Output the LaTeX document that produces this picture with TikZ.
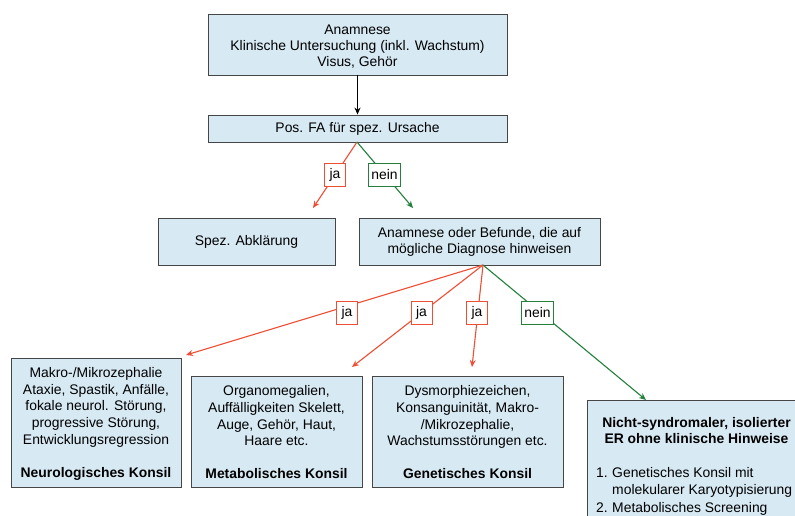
\documentclass[tikz,border=0pt]{standalone}
\usepackage{fontspec}
\setmainfont{Liberation Sans}
\usetikzlibrary{arrows.meta}
\definecolor{boxfill}{RGB}{215,233,243}
\definecolor{boxline}{RGB}{70,70,70}
\definecolor{redc}{RGB}{238,78,52}
\definecolor{greenc}{RGB}{36,128,60}
\begin{document}
\begin{tikzpicture}[x=1pt,y=-1pt,
 box/.style={draw=boxline, fill=boxfill, line width=0.9pt, inner sep=0pt, align=center, font=\fontsize{13.9}{16}\selectfont},
 bt/.style={inner sep=0pt, align=center, font=\fontsize{13.9}{16.6}\selectfont},
 lab/.style={draw=#1, fill=white, line width=0.8pt, inner sep=2.5pt, font=\fontsize{13.9}{15}\selectfont, minimum height=23pt, minimum width=21pt},
 arr/.style={draw=#1, line width=1.1pt, -{Stealth[length=7pt,width=6pt]}},
 txt/.style={inner sep=0pt, font=\fontsize{13.9}{16.5}\selectfont}
]
\useasboundingbox (0,0) rectangle (795,515);
\clip (0,0) rectangle (795,515);
\fill[white] (0,0) rectangle (795,515);

\node[box, minimum width=299pt, minimum height=61pt] (top) at (357.5,44.5) {};
\node[bt, font=\fontsize{13.9}{16}\selectfont] (topT) at (357.5,46.5)
  {Anamnese\\Klinische Untersuchung (inkl. Wachstum)\\Visus, Gehör};
\node[box, minimum width=299pt, minimum height=27pt] (pos) at (357.5,128.5)
  {Pos. FA für spez. Ursache};
\node[box, minimum width=177pt, minimum height=47pt] (spez) at (246.5,241.5)
  {Spez. Abklärung};
\node[box, minimum width=241pt, minimum height=47pt] (anam) at (479.5,241.5)
  {Anamnese oder Befunde, die auf\\mögliche Diagnose hinweisen};

\node[box, minimum width=170pt, minimum height=129pt] (neuro) at (96,422.5) {};
\node[bt] (neuroT) at (96,424)
  {Makro-/Mikrozephalie\\Ataxie, Spastik, Anfälle,\\fokale neurol. Störung,\\progressive Störung,\\Entwicklungsregression\\[16.6pt]\textbf{Neurologisches Konsil}};
\node[box, minimum width=171pt, minimum height=111pt] (metab) at (276.5,431.5) {};
\node[bt] (metabT) at (276.5,432.5)
  {Organomegalien,\\Auffälligkeiten Skelett,\\Auge, Gehör, Haut,\\Haare etc.\\[16.6pt]\textbf{Metabolisches Konsil}};
\node[box, minimum width=191pt, minimum height=111pt] (genet) at (467.5,431.5) {};
\node[bt] (genetT) at (467.5,432.5)
  {Dysmorphiezeichen,\\Konsanguinität, Makro-\\/Mikrozephalie,\\Wachstumsstörungen etc.\\[16.6pt]\textbf{Genetisches Konsil}};
\node[box, minimum width=220pt, minimum height=150pt, anchor=north west] (nicht) at (587,400) {};
\node[txt, align=center, font=\bfseries\fontsize{13.9}{16.75}\selectfont] (nhead) at (696.5,430.5)
  {Nicht-syndromaler, isolierter\\ER ohne klinische Hinweise};
\node[txt, anchor=base west] (n1) at (596,477) {1.};
\node[txt, anchor=base west] (l1a) at (612,477) {Genetisches Konsil mit};
\node[txt, anchor=base west] (l1b) at (612,494) {molekularer Karyotypisierung};
\node[txt, anchor=base west] (n2) at (596,512) {2.};
\node[txt, anchor=base west] (l2a) at (612,512) {Metabolisches Screening};

% connectors
\draw[arr=black] (top.south) -- (pos.north);
\coordinate (s1) at (357,142);
\coordinate (e1) at (313,208);
\coordinate (e2) at (413,208);
\draw[arr=redc] (s1) -- (e1);
\draw[arr=greenc] (s1) -- (e2);
\node[lab=redc] (ja0) at (335,175) {ja};
\node[lab=greenc] (nein0) at (384.5,175) {nein};

\coordinate (s2) at (483,265);
\coordinate (f1) at (186,355);
\coordinate (f2) at (352,367);
\coordinate (f3) at (472,367);
\coordinate (f4) at (646,400);
\draw[arr=redc] (s2) -- (f1);
\draw[arr=redc] (s2) -- (f2);
\draw[arr=redc] (s2) -- (f3);
\draw[arr=greenc] (s2) -- (f4);
\node[lab=redc] (ja1) at (347,312.5) {ja};
\node[lab=redc] (ja2) at (421.5,312.5) {ja};
\node[lab=redc] (ja3) at (477,312.5) {ja};
\node[lab=greenc] (nein1) at (537.5,312.5) {nein};
\end{tikzpicture}
\end{document}
